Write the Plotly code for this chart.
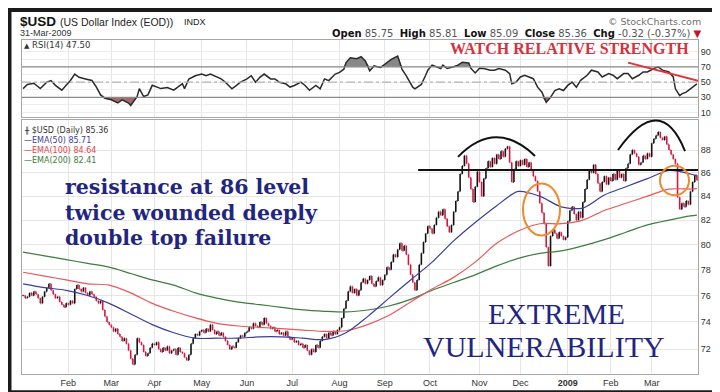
import math
import plotly.graph_objects as go

# ---------------- geometry helpers (pixel -> paper) ----------------
W, H = 720, 392
ML, MR, MT, MB = 14, 30, 32, 20
PW, PH = W - ML - MR, H - MT - MB


def px(x):
    return (x - ML) / PW


def py(y):
    return (H - MB - y) / PH


# ---------------- data ----------------
# x = trading-day index: 0 = 2 Jan 2008 ... 313 = 31 Mar 2009
month_tick_days = [21, 41, 61, 83, 104, 125, 147, 168, 189, 212, 231, 253, 273, 292]
month_tick_labels = ["Feb", "Mar", "Apr", "May", "Jun", "Jul", "Aug", "Sep", "Oct",
                     "Nov", "Dec", "<b>2009</b>", "Feb", "Mar"]

close_2008_jan = [76.0, 75.8, 75.9, 76.2, 76.0, 76.3, 76.1, 75.8, 75.4, 75.9, 76.3, 76.6, 76.9, 76.4,
                  76.1, 75.8, 75.9, 75.5, 75.3, 75.1, 75.4]
close_2008_feb = [75.3, 75.6, 75.4, 76.5, 76.8, 76.5, 76.3, 76.6, 76.2, 76.0, 76.3, 76.1, 75.9, 75.6,
                  75.4, 75.6, 74.9, 74.4, 74.0, 73.8]
close_2008_mar = [73.6, 73.3, 73.5, 73.1, 72.9, 72.6, 72.8, 72.4, 71.9, 71.3, 70.9, 71.6, 72.8, 72.5,
                  72.3, 71.8, 71.5, 71.7, 72.1, 72.4]
close_2008_apr = [72.3, 72.5, 72.0, 71.8, 72.1, 71.9, 72.2, 71.7, 71.9, 72.0, 71.6, 72.1, 71.8, 71.7,
                  71.4, 71.2, 71.6, 72.4, 72.8, 73.1, 73.0, 73.3]
close_2008_may = [73.4, 73.2, 73.5, 73.3, 73.8, 73.4, 73.1, 73.3, 73.0, 73.2, 72.9, 72.6, 72.3, 72.0,
                  72.2, 72.1, 72.5, 72.8, 73.0, 72.9, 73.2]
close_2008_jun = [73.3, 73.6, 73.5, 73.9, 73.7, 73.6, 74.0, 73.8, 74.3, 73.9, 73.7, 73.5, 73.6, 73.3,
                  73.4, 73.1, 73.2, 73.0, 73.3, 72.9, 72.7]
close_2008_jul = [72.8, 72.5, 72.6, 72.3, 72.4, 72.1, 72.3, 71.9, 71.6, 72.0, 71.8, 72.3, 72.1, 72.6,
                  72.9, 73.1, 72.8, 73.2, 73.0, 73.3, 73.1, 73.4]
close_2008_aug = [73.6, 74.3, 75.0, 75.6, 76.3, 76.7, 76.2, 76.5, 76.0, 76.4, 77.0, 77.3, 76.9, 77.2,
                  77.5, 76.9, 76.7, 77.1, 77.4, 76.8, 77.2]
close_2008_sep = [77.6, 78.2, 78.0, 78.6, 79.2, 79.0, 79.6, 80.1, 79.5, 79.9, 79.2, 78.4, 77.6, 77.0,
                  76.4, 77.2, 78.4, 79.3, 80.2, 80.9, 81.5]
close_2008_oct = [81.3, 80.9, 81.6, 82.2, 82.7, 82.4, 82.9, 82.1, 81.5, 81.0, 81.6, 82.7, 83.6, 84.4,
                  85.9, 86.6, 87.5, 86.8, 85.6, 84.6, 83.5, 84.8, 86.1]
close_2008_nov = [85.2, 84.0, 85.5, 86.4, 87.0, 86.5, 87.3, 86.8, 87.6, 87.2, 87.9, 87.4, 88.1, 88.3,
                  86.9, 85.2, 86.3, 87.0, 86.6]
close_2008_dec = [87.1, 86.7, 87.2, 86.5, 86.9, 86.2, 85.7, 85.3, 84.4, 83.4, 82.6, 81.7, 79.8, 78.3,
                  80.7, 81.2, 80.9, 80.5, 81.0, 80.7, 80.4, 80.6]
close_2009_jan = [81.9, 82.8, 83.1, 82.5, 82.0, 82.7, 82.2, 83.5, 84.6, 85.4, 86.2, 86.0, 86.7, 85.9,
                  85.1, 84.4, 85.2, 85.7, 85.0, 85.6]
close_2009_feb = [85.3, 85.9, 85.4, 86.2, 85.6, 85.9, 85.3, 86.4, 86.8, 87.6, 88.0, 87.7, 87.4, 86.7,
                  86.9, 87.5, 87.2, 87.7, 87.4]
close_2009_mar = [88.6, 89.0, 89.3, 89.6, 89.1, 88.9, 89.2, 88.5, 88.0, 87.6, 87.2, 86.8, 83.9, 82.9,
                  83.4, 83.1, 83.6, 83.3, 84.4, 85.2, 85.8, 85.36]

closes = (close_2008_jan + close_2008_feb + close_2008_mar + close_2008_apr + close_2008_may +
          close_2008_jun + close_2008_jul + close_2008_aug + close_2008_sep + close_2008_oct +
          close_2008_nov + close_2008_dec + close_2009_jan + close_2009_feb + close_2009_mar)

ema_day = [0, 10, 20, 30, 40, 50, 60, 70, 80, 90, 100, 110, 120, 130, 140, 150, 160, 170, 180, 190,
           200, 210, 220, 230, 240, 250, 260, 270, 280, 290, 300, 310, 313]
ema50 = [76.9, 76.6, 76.4, 76.0, 75.4, 74.6, 73.8, 73.2, 72.8, 72.8, 72.8, 72.9, 72.9, 72.8, 72.7,
         73.2, 74.4, 75.8, 77.2, 78.6, 80.3, 81.8, 83.2, 84.4, 84.0, 83.1, 83.0, 84.1, 84.8, 85.5,
         86.2, 85.9, 85.71]
ema100 = [77.8, 77.5, 77.2, 76.9, 76.8, 76.2, 75.4, 74.8, 74.3, 73.9, 73.7, 73.6, 73.5, 73.4, 73.3,
          73.35, 73.8, 74.5, 75.5, 76.5, 77.4, 78.6, 80.1, 81.1, 81.7, 81.7, 82.0, 82.8, 83.4, 84.0,
          84.6, 84.6, 84.64]
ema200 = [79.4, 79.1, 78.8, 78.5, 78.2, 77.7, 77.2, 76.8, 76.2, 75.8, 75.5, 75.3, 75.1, 74.9, 74.8,
          74.75, 74.9, 75.2, 75.7, 76.4, 77.0, 77.6, 78.3, 78.9, 79.3, 79.5, 79.9, 80.4, 81.0, 81.6,
          82.0, 82.35, 82.41]

rsi_day = [0, 2, 5, 7, 8, 11, 13, 15, 18, 20, 22, 24, 26, 29, 32, 34, 36, 38, 41, 44,
           46, 49, 50, 53, 54, 56, 58, 60, 62, 64, 67, 70, 74, 75, 77, 80, 83, 85, 87, 90,
           92, 94, 97, 99, 101, 104, 106, 108, 110, 112, 115, 117, 119, 122, 124, 126, 129, 131, 133, 136,
           138, 140, 142, 145, 147, 149, 150, 152, 155, 157, 159, 161, 163, 166, 168, 171, 174, 176, 178, 179,
           181, 182, 184, 185, 187, 188, 190, 192, 194, 195, 197, 200, 202, 204, 207, 208, 210, 212, 214, 217,
           219, 221, 224, 226, 227, 229, 231, 233, 235, 237, 239, 241, 243, 245, 247, 249, 251, 253, 255, 257,
           259, 262, 264, 267, 269, 272, 274, 276, 279, 281, 283, 286, 288, 290, 293, 295, 297, 300, 302, 303,
           305, 306, 308, 310, 311, 313]
rsi_value = [41.4, 46.8, 48.4, 44.2, 41.4, 49.9, 52.0, 45.7, 39.3, 45.7, 52.0, 60.4, 56.2, 54.1, 52.0, 43.6, 33.1, 28.8, 26.7, 22.5,
             26.7, 22.5, 19.2, 31.0, 41.4, 31.0, 33.1, 45.7, 43.6, 41.4, 42.7, 39.3, 47.8, 41.4, 54.0, 58.3, 60.5, 58.3, 60.5, 56.2,
             54.1, 49.8, 41.2, 45.4, 49.8, 54.1, 58.3, 49.8, 56.2, 60.5, 54.1, 54.1, 49.8, 47.7, 43.4, 45.5, 49.8, 45.5, 39.1, 45.5,
             41.2, 54.1, 51.9, 60.5, 62.6, 66.9, 75.5, 81.9, 80.6, 83.2, 77.6, 64.7, 71.2, 69.1, 73.4, 79.8, 84.1, 67.0, 58.0, 53.0,
             43.3, 41.1, 45.6, 46.9, 58.9, 65.6, 72.2, 70.0, 67.8, 72.2, 67.8, 70.0, 72.2, 76.0, 75.0, 68.0, 62.0, 68.0, 67.8, 65.6,
             65.6, 67.8, 65.6, 61.1, 47.8, 50.0, 56.7, 58.9, 56.7, 54.4, 43.3, 36.7, 23.3, 30.0, 38.9, 41.1, 38.9, 45.6, 50.0, 43.3,
             52.2, 58.9, 65.6, 63.3, 56.7, 61.1, 58.9, 54.4, 61.1, 61.1, 54.4, 58.9, 63.3, 63.3, 67.8, 70.0, 65.6, 63.3, 56.7, 41.1,
             32.2, 34.4, 36.7, 41.1, 43.3, 47.5]

resistance_level = 86.25
rsi_trend_days = [281, 314.5]
rsi_trend_values = [75.5, 51.0]
price_ticks = [72, 74, 76, 78, 80, 82, 84, 86, 88]
rsi_ticks = [10, 20, 30, 40, 50, 60, 70, 80, 90]
rsi_tick_text = ["10", "", "30", "", "50", "", "70", "", "90"]

# ---------------- derived bar values ----------------
n = len(closes)
days = list(range(n))
opens = [closes[0]] + closes[:-1]
highs = [max(o, c) for o, c in zip(opens, closes)]
lows = [min(o, c) for o, c in zip(opens, closes)]

NAVY = "#1f2580"
GRID = "#e6e6e6"
FRAME = "#a8a8a8"

fig = go.Figure()

# ---- RSI panel ----
fig.add_trace(go.Scatter(x=rsi_day, y=[70] * len(rsi_day), mode="lines", line=dict(width=0),
                         xaxis="x2", yaxis="y", hoverinfo="skip", showlegend=False))
fig.add_trace(go.Scatter(x=rsi_day, y=[max(v, 70) for v in rsi_value], mode="lines", line=dict(width=0),
                         fill="tonexty", fillcolor="rgba(115,115,115,0.85)",
                         xaxis="x2", yaxis="y", hoverinfo="skip", showlegend=False))
fig.add_trace(go.Scatter(x=rsi_day, y=[30] * len(rsi_day), mode="lines", line=dict(width=0),
                         xaxis="x2", yaxis="y", hoverinfo="skip", showlegend=False))
fig.add_trace(go.Scatter(x=rsi_day, y=[min(v, 30) for v in rsi_value], mode="lines", line=dict(width=0),
                         fill="tonexty", fillcolor="rgba(150,80,80,0.85)",
                         xaxis="x2", yaxis="y", hoverinfo="skip", showlegend=False))
fig.add_trace(go.Scatter(x=rsi_day, y=rsi_value, mode="lines",
                         line=dict(color="#2a2a2a", width=1.5),
                         xaxis="x2", yaxis="y", showlegend=False))

# ---- price panel ----
for vals, col in [(ema200, "#3d7d3d"), (ema100, "#e8575a"), (ema50, "#3a3e9e")]:
    fig.add_trace(go.Scatter(x=ema_day, y=vals, mode="lines",
                             line=dict(color=col, width=1.2, shape="spline", smoothing=0.8),
                             xaxis="x", yaxis="y2", showlegend=False))

fig.add_trace(go.Ohlc(x=days, open=opens, high=highs, low=lows, close=closes,
                      increasing=dict(line=dict(color="#111111", width=1.6)),
                      decreasing=dict(line=dict(color="#d5163f", width=1.6)),
                      tickwidth=0.3, xaxis="x", yaxis="y2", showlegend=False))

axis_font = dict(family="Liberation Sans", size=9, color="#333")

fig.update_layout(
    width=W, height=H,
    margin=dict(l=ML, r=MR, t=MT, b=MB),
    paper_bgcolor="white", plot_bgcolor="white",
    font=dict(family="Liberation Sans", color="#222"),
    xaxis=dict(domain=[0, 1], anchor="y2", range=[-0.5, n - 0.5],
               tickmode="array", tickvals=month_tick_days, ticktext=month_tick_labels,
               showgrid=True, gridcolor=GRID, zeroline=False,
               showline=True, mirror=True, linecolor=FRAME, linewidth=1,
               ticks="", tickfont=axis_font, rangeslider=dict(visible=False)),
    xaxis2=dict(domain=[0, 1], anchor="y", matches="x",
                tickmode="array", tickvals=month_tick_days, showticklabels=False,
                showgrid=True, gridcolor=GRID, zeroline=False,
                showline=True, mirror=True, linecolor=FRAME, linewidth=1, ticks=""),
    yaxis=dict(domain=[py(110), py(32)], anchor="x2", range=[4.6, 105.2], side="right",
               tickmode="array", tickvals=rsi_ticks, ticktext=rsi_tick_text,
               showgrid=True, gridcolor="#ededed", zeroline=False,
               showline=True, mirror=True, linecolor=FRAME, linewidth=1,
               ticks="", tickfont=axis_font),
    yaxis2=dict(domain=[0, py(113)], anchor="x", type="log",
                range=[math.log10(70.22), math.log10(90.74)], side="right",
                tickmode="array", tickvals=price_ticks, ticktext=[str(t) for t in price_ticks],
                showgrid=True, gridcolor=GRID, zeroline=False,
                showline=True, mirror=True, linecolor=FRAME, linewidth=1,
                ticks="", tickfont=axis_font),
)

shapes = []
# RSI reference lines
shapes.append(dict(type="line", xref="x2 domain", yref="y", x0=0, x1=1, y0=70, y1=70,
                   line=dict(color="#8a8a8a", width=1.3)))
shapes.append(dict(type="line", xref="x2 domain", yref="y", x0=0, x1=1, y0=30, y1=30,
                   line=dict(color="#8a8a8a", width=1.3)))
shapes.append(dict(type="line", xref="x2 domain", yref="y", x0=0, x1=1, y0=50, y1=50,
                   line=dict(color="#b3b3b3", width=1.3, dash="dashdot")))
# red RSI trend line
shapes.append(dict(type="line", xref="x2", yref="y", x0=rsi_trend_days[0], x1=rsi_trend_days[1],
                   y0=rsi_trend_values[0], y1=rsi_trend_values[1],
                   line=dict(color="#e0323a", width=2)))
# resistance line
shapes.append(dict(type="line", xref="x", yref="y2", x0=183.5, x1=n + 1, y0=resistance_level,
                   y1=resistance_level, line=dict(color="#111", width=2)))
# double-top arcs
shapes.append(dict(type="path", xref="paper", yref="paper",
                   path=f"M {px(450)},{py(151)} Q {px(487.5)},{py(111.5)} {px(527)},{py(150)}",
                   line=dict(color="#111", width=2)))
shapes.append(dict(type="path", xref="paper", yref="paper",
                   path=f"M {px(610)},{py(144)} Q {px(652.5)},{py(83.5)} {px(677)},{py(145)}",
                   line=dict(color="#111", width=2)))
# orange ellipses
shapes.append(dict(type="circle", xref="paper", yref="paper",
                   x0=px(515), x1=px(552), y0=py(231), y1=py(178),
                   line=dict(color="#ec8a2c", width=2)))
shapes.append(dict(type="circle", xref="paper", yref="paper",
                   x0=px(652), x1=px(681), y0=py(190), y1=py(160),
                   line=dict(color="#ec8a2c", width=2)))
# outer dark frame
shapes.append(dict(type="rect", xref="paper", yref="paper",
                   x0=px(1.5), x1=px(718.5), y0=py(390.5), y1=py(1.5),
                   line=dict(color="#1b1b1b", width=4)))
fig.update_layout(shapes=shapes)

ann = []


def txt(x, y, text, size, color="#222", family="Liberation Sans", xanchor="left"):
    ann.append(dict(xref="paper", yref="paper", x=px(x), y=py(y), text=text, showarrow=False,
                    xanchor=xanchor, yanchor="middle", borderpad=0,
                    font=dict(family=family, size=size, color=color)))


# header
txt(11, 13.5, "<b>$USD</b>", 13.5, "#111")
txt(51, 14, "(US Dollar Index (EOD))", 10.5, "#222")
txt(175, 14, "INDX", 9, "#222")
txt(11, 25, "31-Mar-2009", 9, "#333")
txt(694, 13.5, "© StockCharts.com", 9.5, "#707070", "DejaVu Sans", xanchor="right")
txt(694, 25,
    "<b>Open</b> <span style='color:#555'>85.75</span>  <b>High</b> <span style='color:#555'>85.81</span>  "
    "<b>Low</b> <span style='color:#555'>85.09</span>  <b>Close</b> <span style='color:#555'>85.36</span>  "
    "<b>Chg</b> <span style='color:#555'>-0.32 (-0.37%)</span> <span style='color:#c0162b'>▼</span>",
    10, "#111", "DejaVu Sans", xanchor="right")

# panel legends
leg = "DejaVu Sans"
txt(15, 37, "<span style='font-size:7px'>▲</span> RSI(14) 47.50", 8.5, "#333", leg)
txt(15, 124.5, "<span style='font-size:7px'>╫</span> $USD (Daily) 85.36", 8, "#333", leg)
txt(15, 134.5, "—EMA(50) 85.71", 8, "#3a3e9e", leg)
txt(15, 144.5, "—EMA(100) 84.64", 8, "#e34449", leg)
txt(15, 154.5, "—EMA(200) 82.41", 8, "#3d7d3d", leg)

# commentary
txt(441, 41, "<b>WATCH RELATIVE STRENGTH</b>", 16, "#d8303a", "Liberation Serif")
txt(56, 182, "<b>resistance at 86 level</b>", 20.5, NAVY, "DejaVu Serif")
txt(56, 208, "<b>twice wounded deeply</b>", 20.5, NAVY, "DejaVu Serif")
txt(56, 234, "<b>double top failure</b>", 20.5, NAVY, "DejaVu Serif")
txt(548, 311, "EXTREME", 29, NAVY, "Liberation Serif", xanchor="center")
txt(536, 344, "VULNERABILITY", 30, NAVY, "Liberation Serif", xanchor="center")

fig.update_layout(annotations=ann)

fig.write_html("out.html")
